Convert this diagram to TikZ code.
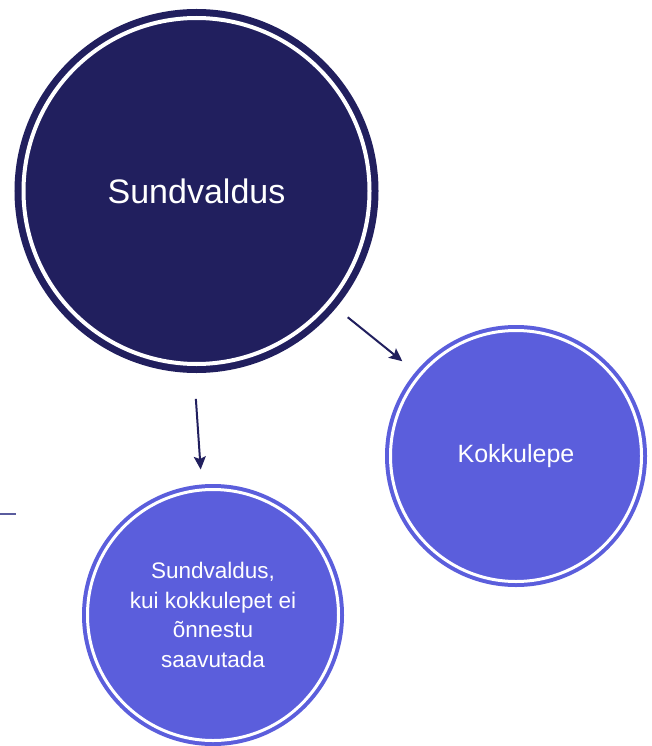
\documentclass[tikz,border=0pt]{standalone}
\usepackage{fontspec}
\setmainfont{Liberation Sans}
\usetikzlibrary{arrows.meta}

\definecolor{navy}{HTML}{211F5E}
\definecolor{violet}{HTML}{5B5EDC}
\definecolor{rule}{HTML}{5A5C9E}

\tikzset{
  ringnode/.style={circle, inner sep=0pt, outer sep=0pt, text=white,
    align=center, double=white},
  bigring/.style={ringnode, draw=navy, fill=navy, line width=7pt,
    double distance=4pt, minimum size=346pt,
    font=\fontsize{34}{40}\selectfont},
  smallring/.style={ringnode, draw=violet, fill=violet, line width=4pt,
    double distance=3pt, minimum size=251pt},
  link/.style={draw=navy, line width=2pt,
    -{Stealth[length=13pt,width=12pt,inset=2.5pt]}},
}

\begin{document}
\begin{tikzpicture}[x=1pt, y=-1pt]
  \useasboundingbox[fill=white] (0,0) rectangle (652,746);

  % main circle
  \node[bigring] (main) at (196.5,191) {Sundvaldus};

  % outcomes
  \node[smallring, font=\fontsize{25}{29}\selectfont] (deal) at (516,456) {Kokkulepe};
  \node[smallring, font=\fontsize{22.5}{29.5}\selectfont] (fallback) at (213,615)
    {Sundvaldus,\\kui kokkulepet ei\\õnnestu\\saavutada};

  % connectors
  \draw[link, shorten <=24pt, shorten >=22.5pt] (main.-40) -- (deal.140);
  \draw[link, shorten <=35pt, shorten >=20.5pt] (main.-91.6) -- (fallback.95.5);

  % short rule at the left edge
  \coordinate (ruleA) at (0,514);
  \coordinate (ruleB) at (15.5,514);
  \draw[rule, line width=1.6pt] (ruleA) -- (ruleB);
\end{tikzpicture}
\end{document}
